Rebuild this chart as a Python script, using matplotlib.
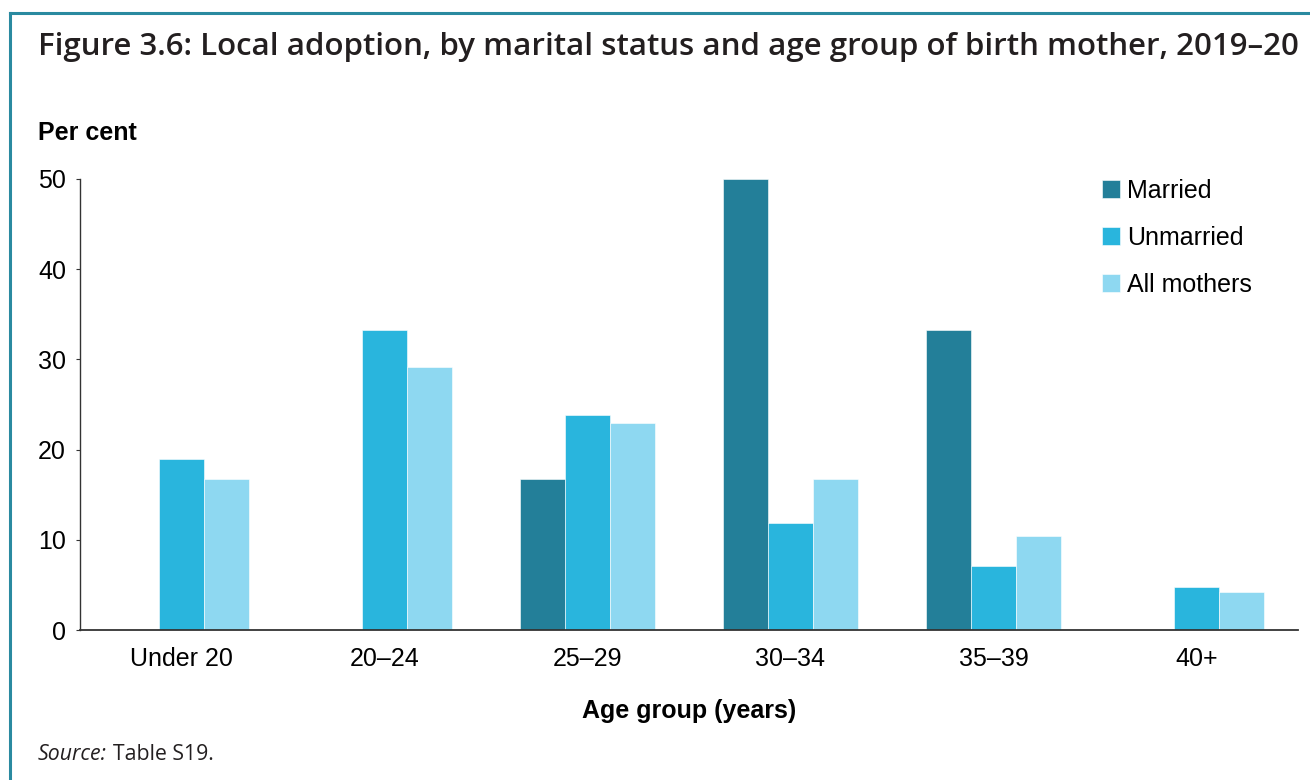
import matplotlib.pyplot as plt
from matplotlib.lines import Line2D
import numpy as np

age_groups = ["Under 20", "20–24", "25–29", "30–34", "35–39", "40+"]
married = [0, 0, 16.7, 50.0, 33.3, 0]
unmarried = [19.0, 33.3, 23.8, 11.9, 7.1, 4.8]
all_mothers = [16.7, 29.2, 22.9, 16.7, 10.4, 4.2]

series = [("Married", married, "#237F99"),
          ("Unmarried", unmarried, "#29B5DD"),
          ("All mothers", all_mothers, "#8ED8F1")]

fig = plt.figure(figsize=(13.1, 7.8), dpi=100)
ax = fig.add_axes([80 / 1310, 1 - 630 / 780, 1218 / 1310, 451 / 780])

x = np.arange(len(age_groups))
w = 0.222
for i, (name, vals, col) in enumerate(series):
    ax.bar(x + (i - 1) * w, vals, width=w, color=col, label=name,
           edgecolor="white", linewidth=0.4)

ax.set_xlim(-0.5, 5.5)
ax.set_ylim(0, 50)
ax.set_yticks(range(0, 51, 10))
ax.set_xticks(x)
ax.set_xticklabels(age_groups, fontsize=18, family="Liberation Sans")
for lab in ax.get_yticklabels():
    lab.set_fontsize(18)
    lab.set_family("Liberation Sans")
ax.tick_params(axis="x", length=0, pad=12.5)
ax.tick_params(axis="y", length=3, pad=7, color="#333333")
for s in ["top", "right"]:
    ax.spines[s].set_visible(False)
ax.spines["left"].set_color("#333333")
ax.spines["bottom"].set_color("#333333")
ax.spines["left"].set_linewidth(1.0)
ax.spines["bottom"].set_linewidth(1.3)

ax.set_xlabel("Age group (years)", fontsize=18, fontweight="bold",
              family="Liberation Sans", labelpad=20)

leg = ax.legend(loc="upper left", bbox_to_anchor=(0.839, 1.0), frameon=False,
                borderpad=0, borderaxespad=0, handlelength=0.72, handleheight=0.72,
                handletextpad=0.28, labelspacing=0.92,
                prop={"family": "Liberation Sans", "size": 18})

fig.text(38 / 1310, 1 - 47 / 780, "Figure 3.6: Local adoption, by marital status and age group of birth mother, 2019–20",
         fontsize=22.5, family="Open Sans", fontweight="semibold", color="#231f20", va="center")
fig.text(38 / 1310, 1 - 133 / 780, "Per cent", fontsize=18, fontweight="bold",
         family="Liberation Sans", va="center")
src = fig.text(38 / 1310, 1 - 755 / 780, "Source:", fontsize=15.3, style="italic",
               family="Open Sans", color="#231f20", va="center")
ax.annotate("Table S19.", xy=(1, 0), xycoords=src, xytext=(4, 0),
            textcoords="offset points", fontsize=15.3, family="Open Sans",
            color="#231f20", va="bottom", annotation_clip=False)

border = "#2A8AA0"
fig.add_artist(Line2D([9.5 / 1310, 9.5 / 1310], [0, 1 - 13 / 780], color=border,
                      linewidth=2.2, transform=fig.transFigure, solid_capstyle="projecting"))
fig.add_artist(Line2D([9.5 / 1310, 1], [1 - 13 / 780, 1 - 13 / 780], color=border,
                      linewidth=2.2, transform=fig.transFigure, solid_capstyle="projecting"))

fig.savefig("out.png", dpi=100)
